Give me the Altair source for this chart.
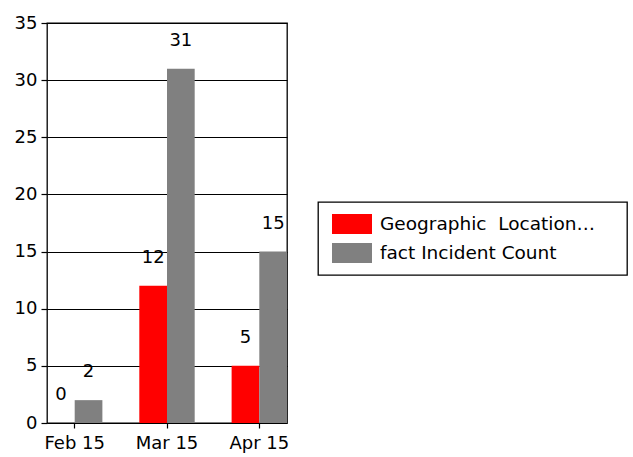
import altair as alt
import pandas as pd

# Monthly values for the two series
months = ["Feb 15", "Mar 15", "Apr 15"]
series = ["Geographic\u00a0 Location…", "fact Incident Count"]
geo_values = [0, 12, 5]
incident_values = [2, 31, 15]
series_colors = ["#ff0000", "#808080"]
y_ticks = [0, 5, 10, 15, 20, 25, 30, 35]

rows = []
for m, g, f in zip(months, geo_values, incident_values):
    rows.append({"month": m, "series": series[0], "value": g})
    rows.append({"month": m, "series": series[1], "value": f})
df = pd.DataFrame(rows)

FONT = "DejaVu Sans"

x_enc = alt.X(
    "month:N",
    sort=months,
    scale=alt.Scale(paddingInner=0.4, paddingOuter=0),
    axis=alt.Axis(
        title=None, labelAngle=0, domain=False, ticks=True, tickSize=5,
        tickColor="black", tickWidth=1.2, labelColor="black", labelFont=FONT,
        labelFontSize=18, labelPadding=6, grid=False,
    ),
)
y_enc = alt.Y(
    "value:Q",
    scale=alt.Scale(domain=[0, 35], nice=False),
    axis=alt.Axis(
        title=None, values=y_ticks, domain=False, tickSize=6, tickColor="black",
        tickWidth=1.2, labelColor="black", labelFont=FONT, labelFontSize=18,
        labelPadding=4, grid=True, gridColor="black", gridOpacity=1, gridWidth=1.2,
    ),
)
xoff = alt.XOffset("series:N", sort=series, scale=alt.Scale(paddingInner=0, paddingOuter=0))

bars = alt.Chart(df).mark_bar().encode(
    x=x_enc,
    xOffset=xoff,
    y=y_enc,
    color=alt.Color(
        "series:N",
        sort=series,
        scale=alt.Scale(domain=series, range=series_colors),
        legend=alt.Legend(
            title=None,
            orient="none",
            legendX=271,
            legendY=179,
            padding=12,
            strokeColor="black",
            fillColor="white",
            symbolType="M-2,-1H2V1H-2Z",
            symbolSize=400,
            symbolStrokeWidth=0,
            symbolOpacity=1,
            symbolOffset=12,
            labelOffset=18,
            labelFont=FONT,
            labelFontSize=18.5,
            labelColor="black",
            labelLimit=400,
            rowPadding=9,
            # blank tail keeps the box wider than the longest label
            labelExpr="datum.label + '\u00a0\u2800'",
        ),
    ),
)

labels = alt.Chart(df).mark_text(
    font=FONT, fontSize=18, color="black", baseline="middle", dy=-28
).encode(
    x=alt.X("month:N", sort=months),
    xOffset=xoff,
    y=alt.Y("value:Q"),
    text=alt.Text("value:Q"),
)

chart = (
    alt.layer(bars, labels)
    .properties(
        width=240,
        height=400,
        autosize=alt.AutoSizeParams(type="none"),
        padding={"left": 47, "top": 23, "right": 346, "bottom": 34},
        background="white",
    )
    .configure_view(stroke="black", strokeWidth=1.3)
    .configure_legend(strokeWidth=1.3)
)

chart.save("out.html", embed_options={"renderer": "svg", "actions": False})
